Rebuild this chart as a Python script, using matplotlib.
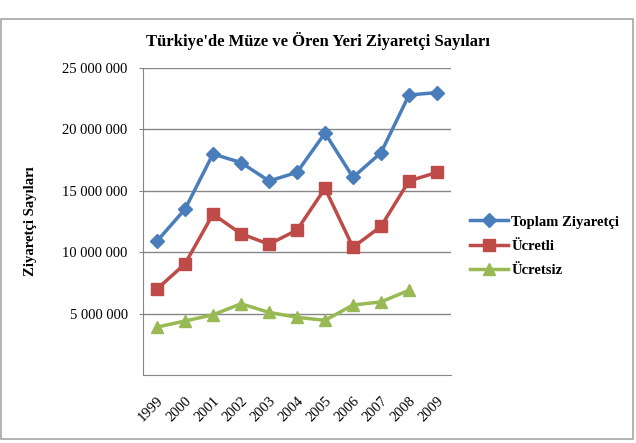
import matplotlib.pyplot as plt
from matplotlib.patches import Rectangle
from matplotlib.ticker import FuncFormatter

plt.rcParams['font.family'] = ['Liberation Serif', 'DejaVu Serif']

# visitor numbers
years = ['1999', '2000', '2001', '2002', '2003', '2004', '2005', '2006', '2007', '2008', '2009']
toplam = [10.9e6, 13.5e6, 18.0e6, 17.3e6, 15.8e6, 16.5e6, 19.7e6, 16.1e6, 18.1e6, 22.8e6, 23.0e6]
ucretli = [7.0e6, 9.05e6, 13.1e6, 11.5e6, 10.65e6, 11.8e6, 15.2e6, 10.4e6, 12.1e6, 15.8e6, 16.5e6]
ucretsiz = [3.9e6, 4.4e6, 4.9e6, 5.8e6, 5.1e6, 4.7e6, 4.45e6, 5.7e6, 5.95e6, 6.9e6]
yticks = [5e6, 10e6, 15e6, 20e6, 25e6]

fig = plt.figure(figsize=(6.36, 4.43), dpi=100)
# outer chart frame
fig.patches.append(Rectangle((0.002, 0.009), 0.993, 0.948, transform=fig.transFigure,
                             fill=False, edgecolor='#a6a6a6', linewidth=1.2))

ax = fig.add_axes([143 / 636, 1 - 375 / 443, (451 - 143) / 636, (375 - 68) / 443])

x = list(range(len(years)))
ax.plot(x, toplam, color='#4a7ebb', marker='D', markersize=7, linewidth=2.5,
        label='Toplam Ziyaretçi')
ax.plot(x, ucretli, color='#be4b48', marker='s', markersize=8, linewidth=2.5,
        label='Ücretli')
ax.plot(x[:len(ucretsiz)], ucretsiz, color='#98b954', marker='^', markersize=8.5,
        linewidth=2.5, label='Ücretsiz')

ax.set_xlim(-0.5, len(years) - 0.5)
ax.set_ylim(0, 25e6)
ax.set_yticks(yticks)
ax.yaxis.set_major_formatter(FuncFormatter(lambda v, p: f'{int(v):,}'.replace(',', ' ')))
ax.set_xticks(x)
ax.set_xticklabels(years, rotation=45, ha='right', rotation_mode='anchor')
ax.tick_params(axis='y', labelsize=10.5, length=3, color='#868686', pad=8)
ax.tick_params(axis='x', labelsize=10.5, length=0, pad=14)
ax.grid(axis='y', color='#868686', linewidth=1)
ax.set_axisbelow(True)
for s in ['top', 'right']:
    ax.spines[s].set_visible(False)
for s in ['left', 'bottom']:
    ax.spines[s].set_color('#868686')

ax.set_ylabel('Ziyaretçi Sayıları', fontsize=10.5, fontweight='bold', labelpad=18)
fig.text(0.5, 1 - 41 / 443, "Türkiye'de Müze ve Ören Yeri Ziyaretçi Sayıları",
         ha='center', va='center', fontsize=12, fontweight='bold')

ax.legend(loc='center left', bbox_to_anchor=(1.02, 0.42), frameon=False,
          prop={'weight': 'bold', 'size': 10.5}, handlelength=2.6, handletextpad=0.2,
          labelspacing=0.75)

plt.savefig('out.png', dpi=100)
